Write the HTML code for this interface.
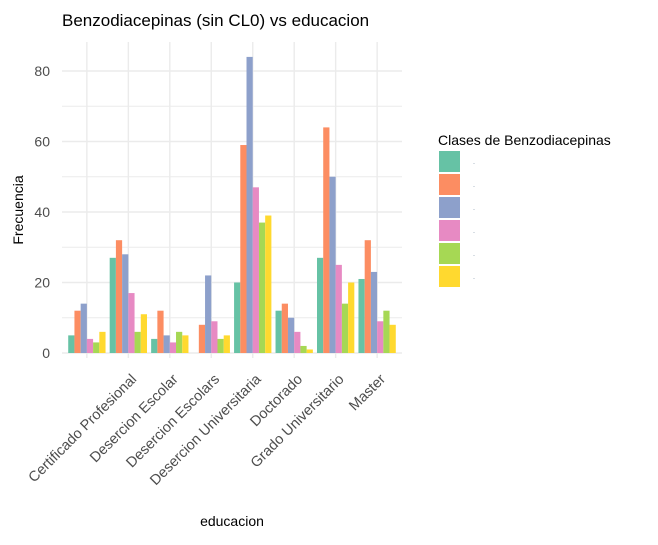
<!DOCTYPE html>
<html><head><meta charset="utf-8"><style>
body{margin:0;background:#fff;font-family:"Liberation Sans",sans-serif}
</style></head><body>
<svg id="c" width="658" height="540" xmlns="http://www.w3.org/2000/svg" font-family="Liberation Sans, sans-serif">
<text x="62" y="26" font-size="17" fill="#000">Benzodiacepinas (sin CL0) vs educacion</text>
<text transform="translate(23,210) rotate(-90)" text-anchor="middle" font-size="14" fill="#000">Frecuencia</text>
<text x="232" y="526" text-anchor="middle" font-size="14" fill="#000">educacion</text>
<g id="grid"></g><g id="bars"></g><g id="xl"></g><g id="yl"></g>
<g id="legend">
<text x="438" y="145" font-size="14" fill="#000">Clases de Benzodiacepinas</text>
</g>
</svg>
<script>
const categories=["","Certificado Profesional","Desercion Escolar","Desercion Escolars","Desercion Universitaria","Doctorado","Grado Universitario","Master"];
const s1=[5,27,4,0,20,12,27,21];
const s2=[12,32,12,8,59,14,64,32];
const s3=[14,28,5,22,84,10,50,23];
const s4=[4,17,3,9,47,6,25,9];
const s5=[3,6,6,4,37,2,14,12];
const s6=[6,11,5,5,39,1,20,8];
const series=[s1,s2,s3,s4,s5,s6];
const colors=["#66c2a5","#fc8d62","#8da0cb","#e78ac3","#a6d854","#ffd92f"];
const yTicks=[0,20,40,60,80];
const NS="http://www.w3.org/2000/svg";
const L=62,R=402,T=42,B=353;
const step=(R-L)/(categories.length+0.2);
const xc=i=>L+step*(0.6+i);
const y=v=>B-v*(B-71)/80;
function mk(t,a,p){const e=document.createElementNS(NS,t);for(const k in a)e.setAttribute(k,a[k]);document.getElementById(p).appendChild(e);return e;}
for(let v=0;v<=85;v+=10){
  const g=mk('line',{x1:L,x2:R,y1:y(v),y2:y(v),stroke:'#ebebeb','stroke-width':v%20?1:1.4},'grid');
  
  
}
categories.forEach((c,i)=>{
  const g=mk('line',{x1:xc(i),x2:xc(i),y1:T,y2:B+5,stroke:'#ebebeb','stroke-width':1.4},'grid');
  
  
  const t=mk('text',{transform:`translate(${xc(i)+9},${B+27}) rotate(-45)`,'text-anchor':'end','font-size':14.5,fill:'#4d4d4d'},'xl');
  t.textContent=c;
  
  
});
yTicks.forEach(v=>{
  const t=mk('text',{x:50,y:y(v)+5,'text-anchor':'end','font-size':14,fill:'#4d4d4d'},'yl');
  t.textContent=v;
  
  
});
const gw=step*0.9,bw=gw/6;
series.forEach((s,j)=>{s.forEach((v,i)=>{
  if(v<=0)return;
  const r=mk('rect',{x:xc(i)-gw/2+j*bw,y:y(v),width:bw,height:B-y(v),fill:colors[j]},'bars');
  
  
});});
colors.forEach((c,j)=>{
  const r=mk('rect',{x:439,y:151+j*23,width:21,height:21,fill:c},'legend');
  
  
  const t=mk('text',{x:473,y:165+j*23,'font-size':6,fill:'#9ab'},'legend');
  t.textContent='-';
  
  
});
</script>
</body></html>
